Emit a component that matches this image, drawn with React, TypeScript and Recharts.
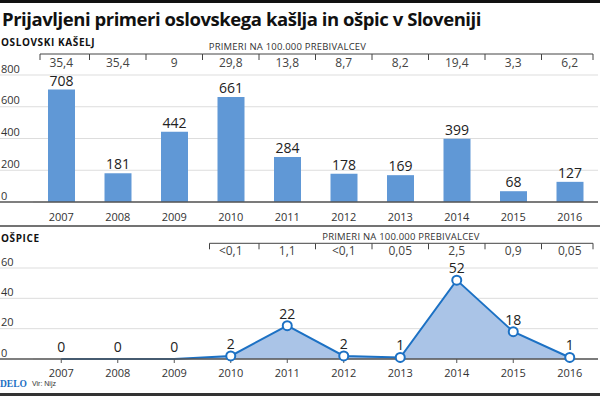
import React from 'react';
import {
  BarChart,
  Bar,
  ComposedChart,
  Area,
  XAxis,
  YAxis,
  CartesianGrid,
  LabelList
} from 'recharts';

const years = ['2007', '2008', '2009', '2010', '2011', '2012', '2013', '2014', '2015', '2016'];
const pertussisCases = [708, 181, 442, 661, 284, 178, 169, 399, 68, 127];
const pertussisRate = ['35,4', '35,4', '9', '29,8', '13,8', '8,7', '8,2', '19,4', '3,3', '6,2'];
const measlesCases = [0, 0, 0, 2, 22, 2, 1, 52, 18, 1];
const measlesRate = ['', '', '', '<0,1', '1,1', '<0,1', '0,05', '2,5', '0,9', '0,05'];
const pertussisTicks = [0, 200, 400, 600, 800];
const measlesTicks = [0, 20, 40, 60];

const W = 600;
const PLOT_LEFT = 33;
const PLOT_RIGHT = 2;
const BAND = (W - PLOT_LEFT - PLOT_RIGHT) / years.length;

const FONT = '"Open Sans", sans-serif';
const BAR_BLUE = '#6098d6';
const LINE_BLUE = '#1c71c4';
const FILL_BLUE = '#aac4e7';
const GRID = '#dddddd';
const AXIS = '#555555';

const pertussisData = years.map((year, i) => ({ year, cases: pertussisCases[i] }));
const measlesData = years.map((year, i) => ({ year, cases: measlesCases[i] }));

// y labels sit on the left edge, gridline runs under them to the plot
const YTick = ({ y, payload }: any) => {
  const zero = payload.value === 0;
  return (
    <g>
      <line x1={0} x2={PLOT_LEFT} y1={y} y2={y} stroke={zero ? AXIS : GRID} strokeWidth={zero ? 1.5 : 1} />
      <text x={1} y={y - 2.5} fontSize={11} fill="#333" fontFamily={FONT}>
        {payload.value}
      </text>
    </g>
  );
};

// bracket row with rate per 100.000 above each year
const makeRateTick = (rates: string[], lineY: number, textY: number) => (props: any) => {
  const { x, index } = props;
  const rate = rates[index];
  if (!rate) return <g />;
  const first = index === 0 || !rates[index - 1];
  const last = index === rates.length - 1;
  const x1 = x - BAND / 2 + (first ? 7 : 0);
  const x2 = x + BAND / 2 - (last ? 5 : 0);
  return (
    <g>
      <line x1={x1} x2={x2} y1={lineY} y2={lineY} stroke="#444" />
      <line x1={x1} x2={x1} y1={lineY} y2={lineY + 6} stroke="#444" />
      {last && <line x1={x2} x2={x2} y1={lineY} y2={lineY + 6} stroke="#444" />}
      <text x={x} y={textY} textAnchor="middle" fontSize={12} fill="#444" fontFamily={FONT}>
        {rate}
      </text>
    </g>
  );
};

const MeaslesDot = (props: any) => {
  const { cx, cy, payload, index } = props;
  if (!payload || payload.cases <= 0) return <g key={`d-${index}`} />;
  return <circle key={`d-${index}`} cx={cx} cy={cy} r={4.5} fill="#fff" stroke={LINE_BLUE} strokeWidth={2} />;
};

const App: React.FC = () => {
  return (
    <div style={{ position: 'fixed', left: 0, top: 0, width: 600, height: 396, background: '#fff', fontFamily: FONT }}>
      <svg width={600} height={396} style={{ position: 'absolute', left: 0, top: 0 }}>
        <rect x={0} y={0} width={600} height={3} fill="#111" />
        <text x={2} y={26} fontSize={18.5} fontWeight={700} fill="#111" fontFamily={FONT} letterSpacing={-0.45}>
          Prijavljeni primeri oslovskega kašlja in ošpic v Sloveniji
        </text>
        <text x={1} y={46} fontSize={10} fontWeight={700} fill="#111" fontFamily={FONT} letterSpacing={0.6}>
          OSLOVSKI KAŠELJ
        </text>
        <text x={287.5} y={50} textAnchor="middle" fontSize={9.5} fill="#333" fontFamily={FONT} letterSpacing={0.2}>
          PRIMERI NA 100.000 PREBIVALCEV
        </text>
        <line x1={0} x2={600} y1={226} y2={226} stroke="#444" strokeWidth={1.5} />
        <text x={1} y={242} fontSize={10} fontWeight={700} fill="#111" fontFamily={FONT} letterSpacing={0.6}>
          OŠPICE
        </text>
        <text x={401} y={240} textAnchor="middle" fontSize={9.5} fill="#333" fontFamily={FONT} letterSpacing={0.2}>
          PRIMERI NA 100.000 PREBIVALCEV
        </text>
        <text x={0} y={387} fontSize={9.5} fontWeight={700} fill="#1a6fc4" fontFamily='"Liberation Serif", serif'>
          DELO
        </text>
        <text x={32} y={386} fontSize={7} fill="#333" fontFamily='"Liberation Sans Narrow", "Liberation Sans", sans-serif'>
          Vir: Nijz
        </text>
        <rect x={0} y={393} width={600} height={3} fill="#333" />
      </svg>

      <div style={{ position: 'absolute', left: 0, top: 0 }}>
        <BarChart width={600} height={230} data={pertussisData} margin={{ top: 45, right: PLOT_RIGHT, bottom: 8, left: 0 }}>
          <CartesianGrid horizontal vertical={false} stroke={GRID} />
          <XAxis
            dataKey="year"
            height={20}
            tickLine={false}
            tickSize={6}
            tickMargin={5}
            axisLine={{ stroke: AXIS, strokeWidth: 1.5 }}
            tick={{ fontSize: 11, fill: '#333', fontFamily: FONT }}
          />
          <XAxis
            xAxisId="rate"
            dataKey="year"
            orientation="top"
            height={30}
            axisLine={false}
            tickLine={false}
            tick={makeRateTick(pertussisRate, 54, 67)}
          />
          <YAxis
            width={PLOT_LEFT}
            domain={[0, 800]}
            ticks={pertussisTicks}
            axisLine={false}
            tickLine={false}
            tick={<YTick />}
          />
          <Bar dataKey="cases" fill={BAR_BLUE} barSize={27} isAnimationActive={false}>
            <LabelList dataKey="cases" position="top" offset={4} fontSize={14} fill="#222" fontFamily={FONT} />
          </Bar>
        </BarChart>
      </div>

      <div style={{ position: 'absolute', left: 0, top: 226 }}>
        <ComposedChart width={600} height={170} data={measlesData} margin={{ top: 12, right: PLOT_RIGHT, bottom: 17, left: 0 }}>
          <CartesianGrid horizontal vertical={false} stroke={GRID} />
          <XAxis
            dataKey="year"
            scale="band"
            height={20}
            tickSize={4}
            tickMargin={6}
            tickLine={{ stroke: AXIS }}
            axisLine={{ stroke: AXIS, strokeWidth: 1.5 }}
            tick={{ fontSize: 11, fill: '#333', fontFamily: FONT }}
          />
          <XAxis
            xAxisId="rate"
            dataKey="year"
            scale="band"
            orientation="top"
            height={30}
            axisLine={false}
            tickLine={false}
            tick={makeRateTick(measlesRate, 17.3, 29)}
          />
          <YAxis
            width={PLOT_LEFT}
            domain={[0, 60]}
            ticks={measlesTicks}
            axisLine={false}
            tickLine={false}
            tick={<YTick />}
          />
          <Area
            type="linear"
            dataKey="cases"
            stroke={LINE_BLUE}
            strokeWidth={2}
            fill={FILL_BLUE}
            fillOpacity={1}
            dot={MeaslesDot}
            activeDot={false}
            isAnimationActive={false}
          >
            <LabelList dataKey="cases" position="top" offset={7} fontSize={14} fill="#222" fontFamily={FONT} />
          </Area>
        </ComposedChart>
      </div>
    </div>
  );
};

export default App;
